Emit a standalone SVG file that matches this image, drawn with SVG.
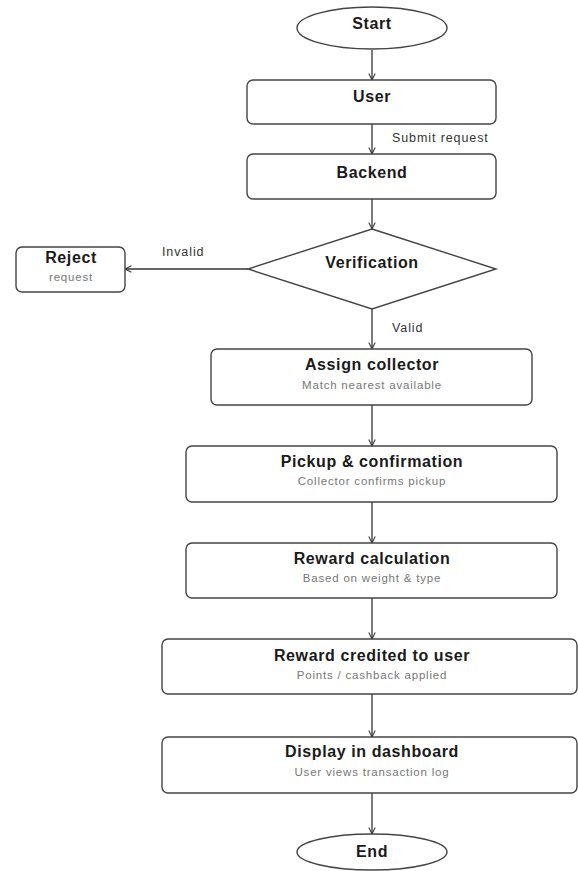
<svg xmlns="http://www.w3.org/2000/svg" width="578" height="871" viewBox="0 0 578 871">
<defs>
<marker id="arr" viewBox="0 0 10 10" refX="9" refY="5" markerWidth="8" markerHeight="8" orient="auto" markerUnits="userSpaceOnUse">
<path d="M1,1 L9,5 L1,9" fill="none" stroke="#333" stroke-width="1.3"/>
</marker>
<style>
.box{fill:#fff;stroke:#444;stroke-width:1.4}
.t{font-family:"Liberation Sans",Arial,sans-serif;font-weight:bold;font-size:16px;fill:#1a1a1a;text-anchor:middle;letter-spacing:0.6px}
.s{font-family:"Liberation Sans",Arial,sans-serif;font-size:11.5px;fill:#777;text-anchor:middle;letter-spacing:0.8px}
.l{font-family:"Liberation Sans",Arial,sans-serif;font-size:12.5px;fill:#333;letter-spacing:0.9px}
.c{fill:none;stroke:#333;stroke-width:1.3;marker-end:url(#arr)}
</style>
</defs>
<rect width="578" height="871" fill="#fff"/>
<g id="connectors">
<line class="c" x1="372" y1="50" x2="372" y2="80"/>
<line class="c" x1="372" y1="124" x2="372" y2="154"/>
<line class="c" x1="372" y1="199" x2="372" y2="229"/>
<line class="c" x1="248" y1="269" x2="125" y2="269"/>
<line class="c" x1="372" y1="309" x2="372" y2="349"/>
<line class="c" x1="372" y1="405" x2="372" y2="446"/>
<line class="c" x1="372" y1="502" x2="372" y2="543"/>
<line class="c" x1="372" y1="598" x2="372" y2="639"/>
<line class="c" x1="372" y1="694" x2="372" y2="737"/>
<line class="c" x1="372" y1="793" x2="372" y2="834"/>
<text class="l" x="392" y="142">Submit request</text>
<text class="l" x="162" y="256">Invalid</text>
<text class="l" x="392" y="332">Valid</text>
</g>
<g id="start">
<ellipse class="box" cx="372" cy="28" rx="75" ry="21"/>
<text class="t" x="372" y="29">Start</text>
</g>
<g id="user">
<rect class="box" x="247" y="80" width="249" height="44" rx="6"/>
<text class="t" x="372" y="102">User</text>
</g>
<g id="backend">
<rect class="box" x="247" y="154" width="249" height="45" rx="6"/>
<text class="t" x="372" y="178">Backend</text>
</g>
<g id="verification">
<polygon class="box" points="372,229 496,269 372,309 248,269"/>
<text class="t" x="372" y="268">Verification</text>
</g>
<g id="reject">
<rect class="box" x="16" y="247" width="109" height="45" rx="6"/>
<text class="t" x="71" y="263">Reject</text>
<text class="s" x="71" y="281">request</text>
</g>
<g id="assign">
<rect class="box" x="211" y="349" width="321" height="56" rx="6"/>
<text class="t" x="372" y="370">Assign collector</text>
<text class="s" x="372" y="389">Match nearest available</text>
</g>
<g id="pickup">
<rect class="box" x="186" y="446" width="371" height="56" rx="6"/>
<text class="t" x="372" y="467">Pickup &amp; confirmation</text>
<text class="s" x="372" y="485">Collector confirms pickup</text>
</g>
<g id="reward-calc">
<rect class="box" x="186" y="543" width="371" height="55" rx="6"/>
<text class="t" x="372" y="564">Reward calculation</text>
<text class="s" x="372" y="582">Based on weight &amp; type</text>
</g>
<g id="reward-credited">
<rect class="box" x="162" y="639" width="415" height="55" rx="6"/>
<text class="t" x="372" y="661">Reward credited to user</text>
<text class="s" x="372" y="679">Points / cashback applied</text>
</g>
<g id="dashboard">
<rect class="box" x="162" y="737" width="415" height="56" rx="6"/>
<text class="t" x="372" y="757">Display in dashboard</text>
<text class="s" x="372" y="776">User views transaction log</text>
</g>
<g id="end">
<ellipse class="box" cx="372" cy="852" rx="75" ry="18"/>
<text class="t" x="372" y="857">End</text>
</g>
</svg>
